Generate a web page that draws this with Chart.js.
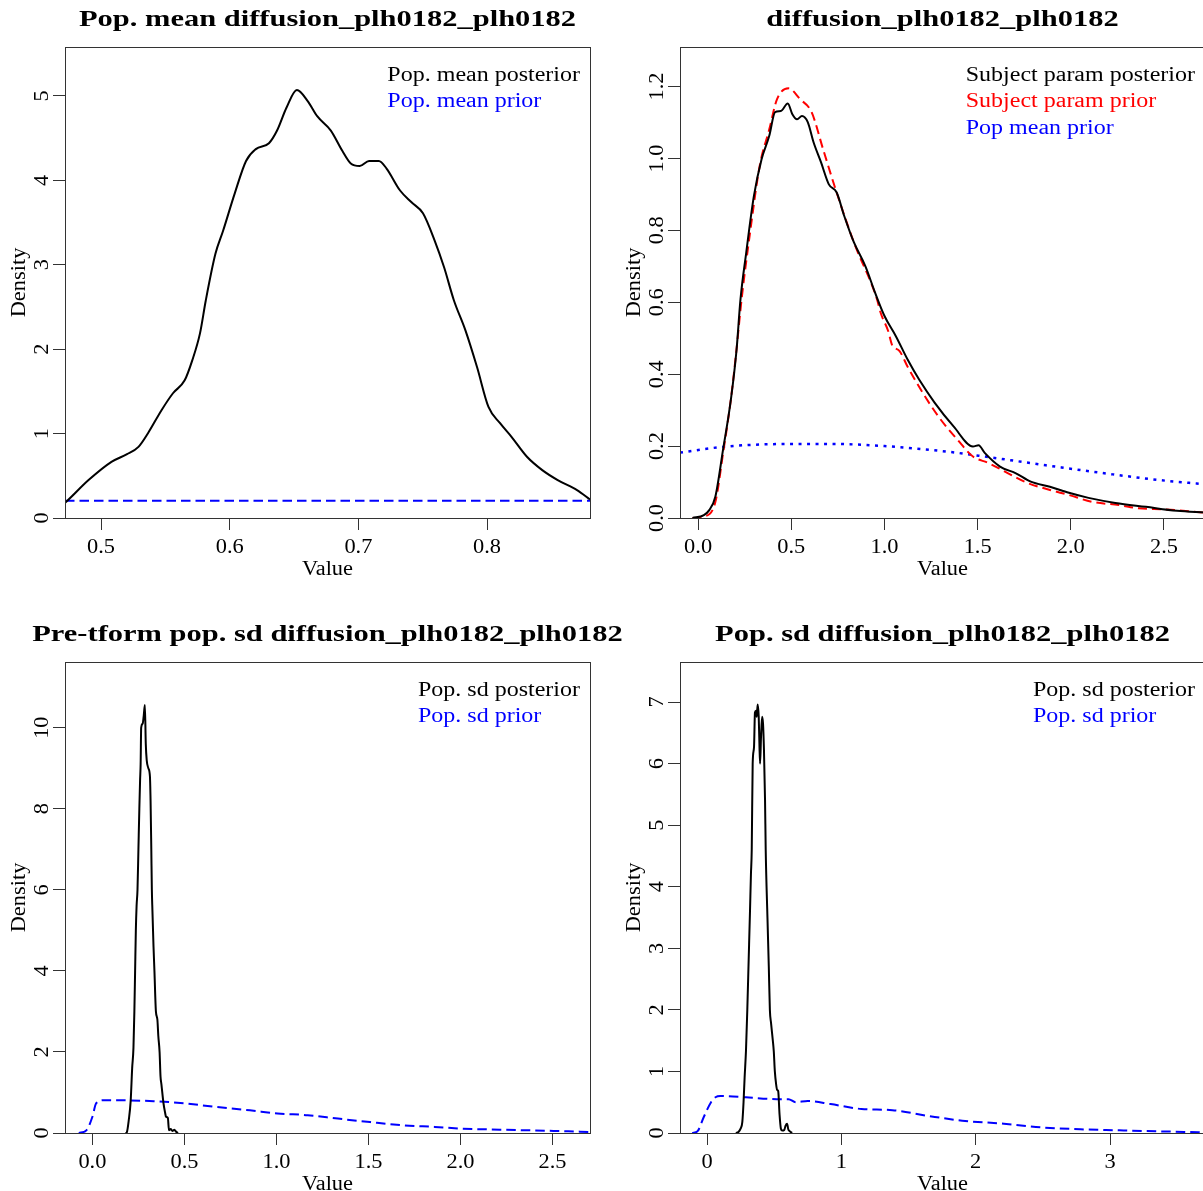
<!DOCTYPE html>
<html><head><meta charset="utf-8">
<script src="https://cdn.jsdelivr.net/npm/chart.js@4.4.1/dist/chart.umd.min.js"></script>
<style>
html,body{margin:0;padding:0;background:#fff;overflow:hidden;width:1203px;height:1191px;}
.wrap{position:absolute;}
canvas{display:block;}
</style></head><body>
<div class="wrap" style="left:0;top:0"><canvas id="c1" width="601" height="600"></canvas></div>
<div class="wrap" style="left:601px;top:0"><canvas id="c2" width="609" height="600"></canvas></div>
<div class="wrap" style="left:601px;top:600px"><canvas id="c4" width="609" height="591"></canvas></div>
<div class="wrap" style="left:0;top:600px"><canvas id="c3" width="640" height="591"></canvas></div>
<script>
// ---------------- DATA ----------------
// Panel 1: Pop. mean diffusion
const p1Title = "Pop. mean diffusion_plh0182_plh0182";
const p1XTicks = [0.5, 0.6, 0.7, 0.8];
const p1XLabels = ["0.5", "0.6", "0.7", "0.8"];
const p1YTicks = [0, 1, 2, 3, 4, 5];
const p1YLabels = ["0", "1", "2", "3", "4", "5"];
const p1PostX = [0.472,0.473,0.4903,0.5081,0.5202,0.5291,0.5365,0.547,0.5559,0.565,0.5709,0.5769,0.5814,0.5889,0.5948,0.6038,0.6127,0.6203,0.6305,0.6368,0.6441,0.6522,0.6606,0.668,0.6786,0.6875,0.6941,0.701,0.7083,0.7159,0.7219,0.7324,0.7413,0.7502,0.7592,0.7666,0.7742,0.7832,0.7922,0.8011,0.8101,0.819,0.831,0.8429,0.8549,0.8699,0.880];
const p1PostY = [0.18,0.193,0.449,0.665,0.756,0.843,1.005,1.277,1.478,1.631,1.868,2.187,2.577,3.13,3.40,3.84,4.23,4.37,4.44,4.59,4.86,5.07,4.94,4.76,4.59,4.35,4.20,4.17,4.23,4.23,4.14,3.88,3.74,3.61,3.29,2.97,2.58,2.222,1.788,1.316,1.123,0.961,0.725,0.567,0.449,0.331,0.22];
const p1PriorX = [0.472, 0.55, 0.65, 0.75, 0.880];
const p1PriorY = [0.204, 0.204, 0.204, 0.204, 0.204];
const p1Legend = ["Pop. mean posterior", "Pop. mean prior"];

// Panel 2: subject parameter
const p2Title = "diffusion_plh0182_plh0182";
const p2XTicks = [0, 0.5, 1.0, 1.5, 2.0, 2.5];
const p2XLabels = ["0.0", "0.5", "1.0", "1.5", "2.0", "2.5"];
const p2YTicks = [0, 0.2, 0.4, 0.6, 0.8, 1.0, 1.2];
const p2YLabels = ["0.0", "0.2", "0.4", "0.6", "0.8", "1.0", "1.2"];
const p2PostX = [-0.03,0.031,0.06,0.093,0.134,0.176,0.2065,0.2275,0.2586,0.2994,0.3407,0.382,0.4131,0.4442,0.4812,0.5059,0.5311,0.5574,0.5885,0.6196,0.6599,0.7017,0.743,0.7843,0.8358,0.898,0.9496,1.001,1.062,1.125,1.186,1.269,1.372,1.475,1.505,1.538,1.62,1.703,1.785,1.888,1.99,2.095,2.239,2.403,2.57,2.72];
const p2PostY = [0,0.008,0.022,0.06,0.19,0.329,0.468,0.608,0.739,0.895,0.998,1.063,1.129,1.132,1.153,1.123,1.109,1.118,1.101,1.045,0.989,0.928,0.906,0.840,0.767,0.700,0.627,0.561,0.505,0.440,0.385,0.321,0.254,0.199,0.202,0.181,0.143,0.125,0.101,0.087,0.070,0.056,0.042,0.031,0.020,0.015];
const p2SubjPriorX = [-0.03,0.031,0.093,0.134,0.176,0.2065,0.2334,0.279,0.3305,0.382,0.4238,0.4855,0.5472,0.6089,0.6706,0.743,0.8358,0.9603,0.98,1.02,1.042,1.08,1.125,1.207,1.29,1.393,1.475,1.558,1.661,1.765,1.888,1.99,2.114,2.258,2.363,2.505,2.72];
const p2SubjPriorY = [0,0.004,0.045,0.18,0.33,0.47,0.608,0.794,0.979,1.081,1.165,1.195,1.165,1.129,1.026,0.906,0.767,0.608,0.57,0.52,0.48,0.465,0.42,0.347,0.282,0.217,0.171,0.153,0.125,0.098,0.078,0.064,0.045,0.036,0.027,0.024,0.015];
const p2PopPriorX = [-0.097,0.156,0.506,0.712,1.0,1.33,1.538,1.847,2.157,2.466,2.72];
const p2PopPriorY = [0.182,0.199,0.206,0.206,0.2,0.185,0.171,0.148,0.126,0.106,0.094];
const p2Legend = ["Subject param posterior", "Subject param prior", "Pop mean prior"];

// Panel 3: pre-transform pop sd
const p3Title = "Pre-tform pop. sd diffusion_plh0182_plh0182";
const p3XTicks = [0, 0.5, 1.0, 1.5, 2.0, 2.5];
const p3XLabels = ["0.0", "0.5", "1.0", "1.5", "2.0", "2.5"];
const p3YTicks = [0, 2, 4, 6, 8, 10];
const p3YLabels = ["0", "2", "4", "6", "8", "10"];
const p3PostX = [0.180,0.187,0.197,0.208,0.216,0.223,0.228,0.232,0.236,0.240,0.245,0.250,0.255,0.259,0.262,0.265,0.273,0.279,0.285,0.290,0.295,0.304,0.3125,0.316,0.320,0.323,0.326,0.332,0.337,0.345,0.353,0.358,0.365,0.370,0.375,0.386,0.395,0.400,0.410,0.416,0.425,0.435,0.445,0.455,0.465];
const p3PostY = [0,0.02,0.3,0.8,1.6,2.1,3.0,4.0,5.0,5.6,6.0,7.0,8.0,8.7,9.1,10.0,10.1,10.3,10.56,9.6,9.2,9.0,8.8,8.2,7.0,6.0,5.5,4.6,4.0,3.0,2.8,2.4,2.0,1.4,1.2,0.74,0.5,0.4,0.37,0.07,0.1,0.05,0.08,0.03,0.0];
const p3PriorX = [-0.074,-0.033,0.0,0.02,0.062,0.333,0.5,0.668,0.856,1.006,1.17,1.334,1.508,1.692,1.86,2.012,2.215,2.516,2.716];
const p3PriorY = [0,0.066,0.40,0.73,0.81,0.785,0.73,0.645,0.56,0.48,0.44,0.355,0.27,0.19,0.15,0.107,0.083,0.05,0.025];
const p3Legend = ["Pop. sd posterior", "Pop. sd prior"];

// Panel 4: pop sd
const p4Title = "Pop. sd diffusion_plh0182_plh0182";
const p4XTicks = [0, 1, 2, 3];
const p4XLabels = ["0", "1", "2", "3"];
const p4YTicks = [0, 1, 2, 3, 4, 5, 6, 7];
const p4YLabels = ["0", "1", "2", "3", "4", "5", "6", "7"];
const p4PostX = [0.215,0.234,0.25,0.263,0.272,0.28,0.29,0.30,0.31,0.32,0.327,0.333,0.34,0.35,0.357,0.365,0.37,0.377,0.385,0.39,0.395,0.402,0.41,0.417,0.424,0.432,0.437,0.45,0.46,0.468,0.477,0.49,0.497,0.505,0.514,0.522,0.53,0.54,0.55,0.56,0.575,0.585,0.596,0.605,0.615,0.633];
const p4PostY = [0,0.016,0.07,0.18,0.5,0.9,1.33,2.0,2.8,3.6,4.2,4.6,6.0,6.27,6.83,6.86,6.76,6.96,6.76,6.33,6.0,6.43,6.76,6.65,6.22,5.41,4.6,3.5,2.7,2.0,1.78,1.5,1.33,1.0,0.8,0.7,0.68,0.3,0.07,0.04,0.05,0.12,0.15,0.06,0.03,0];
const p4PriorX = [-0.11,-0.07,-0.024,0.03,0.063,0.1,0.29,0.52,0.607,0.66,0.75,0.92,1.15,1.38,1.64,1.9,2.21,2.5,2.78,3.07,3.36,3.707];
const p4PriorY = [0,0.03,0.26,0.5,0.58,0.6,0.58,0.55,0.55,0.5,0.52,0.47,0.39,0.37,0.28,0.2,0.15,0.09,0.06,0.043,0.027,0.01];
const p4Legend = ["Pop. sd posterior", "Pop. sd prior"];

// ---------------- DRAWING ----------------
const FONT = '"Liberation Serif","Times New Roman",serif';
const BLACK = '#000000', BLUE = '#0000ff', RED = '#ff0000';

function drawText(ctx, s, x, y, o) {
  o = Object.assign({size: 20, bold: false, color: '#000', align: 'center', rot: false, hs: 1.12}, o || {});
  ctx.save();
  ctx.translate(x, y);
  if (o.rot) ctx.rotate(-Math.PI / 2);
  ctx.scale(o.hs, 1);
  ctx.font = (o.bold ? 'bold ' : '') + o.size + 'px ' + FONT;
  ctx.fillStyle = o.color;
  ctx.textAlign = o.align;
  ctx.textBaseline = 'alphabetic';
  ctx.fillText(s, 0, 0);
  ctx.restore();
}
function textW(ctx, s, size, bold, hs) {
  ctx.save();
  ctx.font = (bold ? 'bold ' : '') + size + 'px ' + FONT;
  const w = ctx.measureText(s).width * hs;
  ctx.restore();
  return w;
}

function rPlot(cfg) {
  return {
    id: 'rplot',
    afterDraw(chart) {
      const ctx = chart.ctx, ca = chart.chartArea;
      const xs = chart.scales.x, ys = chart.scales.y;
      ctx.save();
      ctx.strokeStyle = '#333';
      ctx.lineWidth = 1;
      ctx.strokeRect(Math.round(ca.left) + 0.5, Math.round(ca.top) + 0.5,
                     Math.round(ca.right - ca.left), Math.round(ca.bottom - ca.top));
      ctx.restore();
      cfg.xTicks.forEach((v, i) => drawText(ctx, cfg.xLabels[i], xs.getPixelForValue(v), ca.bottom + 35));
      drawText(ctx, 'Value', (ca.left + ca.right) / 2, ca.bottom + 57);
      cfg.yTicks.forEach((v, i) => drawText(ctx, cfg.yLabels[i], ca.left - 17, ys.getPixelForValue(v), {rot: true}));
      drawText(ctx, 'Density', ca.left - 40, (ca.top + ca.bottom) / 2, {rot: true});
      drawText(ctx, cfg.title, (ca.left + ca.right) / 2, ca.top - 21, {bold: true, size: 24, hs: 1.27});
      const lw = Math.max(...cfg.legend.map(s => textW(ctx, s, 20, false, 1.2)));
      const lx = ca.right - 10 - lw;
      cfg.legend.forEach((s, i) => drawText(ctx, s, lx, ca.top + 33.5 + i * 26.6,
        {align: 'left', color: cfg.legendColors[i], hs: 1.2}));
    }
  };
}

function makeChart(id, cfg) {
  const datasets = cfg.series.map(s => ({
    data: s.x.map((x, i) => ({x: x, y: s.y[i]})),
    borderColor: s.color,
    borderWidth: s.width || 2,
    borderDash: s.dash || [],
    borderCapStyle: 'butt',
    pointRadius: 0,
    fill: false,
    tension: 0,
    cubicInterpolationMode: 'monotone'
  }));
  return new Chart(document.getElementById(id), {
    type: 'line',
    data: {datasets: datasets},
    options: {
      responsive: false, animation: false, devicePixelRatio: 1,
      layout: {padding: {left: 0, top: cfg.padTop, right: cfg.padRight, bottom: 0}},
      plugins: {legend: {display: false}, tooltip: {enabled: false}, title: {display: false}},
      scales: {
        x: {
          type: 'linear', position: 'bottom', min: cfg.xmin, max: cfg.xmax,
          grid: {drawOnChartArea: false, drawTicks: true, tickLength: 12, color: '#333', lineWidth: 1},
          border: {display: false},
          ticks: {display: false},
          afterBuildTicks: s => { s.ticks = cfg.xTicks.map(v => ({value: v})); },
          afterFit: s => { s.height = cfg.xAxisH; }
        },
        y: {
          type: 'linear', position: 'left', min: 0, max: cfg.ymax,
          grid: {drawOnChartArea: false, drawTicks: true, tickLength: 12, color: '#333', lineWidth: 1},
          border: {display: false},
          ticks: {display: false},
          afterBuildTicks: s => { s.ticks = cfg.yTicks.map(v => ({value: v})); },
          afterFit: s => { s.width = cfg.yAxisW; }
        }
      }
    },
    plugins: [rPlot(cfg)]
  });
}

makeChart('c1', {
  title: p1Title, xTicks: p1XTicks, xLabels: p1XLabels, yTicks: p1YTicks, yLabels: p1YLabels,
  legend: p1Legend, legendColors: [BLACK, BLUE],
  xmin: 0.472, xmax: 0.880, ymax: 5.58,
  padTop: 47, padRight: 11, xAxisH: 82, yAxisW: 65,
  series: [
    {x: p1PostX, y: p1PostY, color: BLACK},
    {x: p1PriorX, y: p1PriorY, color: BLUE, dash: [9.5, 5]}
  ]
});
makeChart('c2', {
  title: p2Title, xTicks: p2XTicks, xLabels: p2XLabels, yTicks: p2YTicks, yLabels: p2YLabels,
  legend: p2Legend, legendColors: [BLACK, RED, BLUE],
  xmin: -0.097, xmax: 2.72, ymax: 1.31,
  padTop: 47, padRight: 5, xAxisH: 82, yAxisW: 79,
  series: [
    {x: p2PostX, y: p2PostY, color: BLACK},
    {x: p2SubjPriorX, y: p2SubjPriorY, color: RED, dash: [9, 5]},
    {x: p2PopPriorX, y: p2PopPriorY, color: BLUE, dash: [3, 5.5], width: 2.5}
  ]
});
makeChart('c3', {
  title: p3Title, xTicks: p3XTicks, xLabels: p3XLabels, yTicks: p3YTicks, yLabels: p3YLabels,
  legend: p3Legend, legendColors: [BLACK, BLUE],
  xmin: -0.149, xmax: 2.704, ymax: 11.62,
  padTop: 62, padRight: 50, xAxisH: 58, yAxisW: 65,
  series: [
    {x: p3PostX, y: p3PostY, color: BLACK},
    {x: p3PriorX, y: p3PriorY, color: BLUE, dash: [9.5, 5]}
  ]
});
makeChart('c4', {
  title: p4Title, xTicks: p4XTicks, xLabels: p4XLabels, yTicks: p4YTicks, yLabels: p4YLabels,
  legend: p4Legend, legendColors: [BLACK, BLUE],
  xmin: -0.201, xmax: 3.707, ymax: 7.65,
  padTop: 62, padRight: 5, xAxisH: 58, yAxisW: 79,
  series: [
    {x: p4PostX, y: p4PostY, color: BLACK},
    {x: p4PriorX, y: p4PriorY, color: BLUE, dash: [9.5, 5]}
  ]
});
</script>
</body></html>
